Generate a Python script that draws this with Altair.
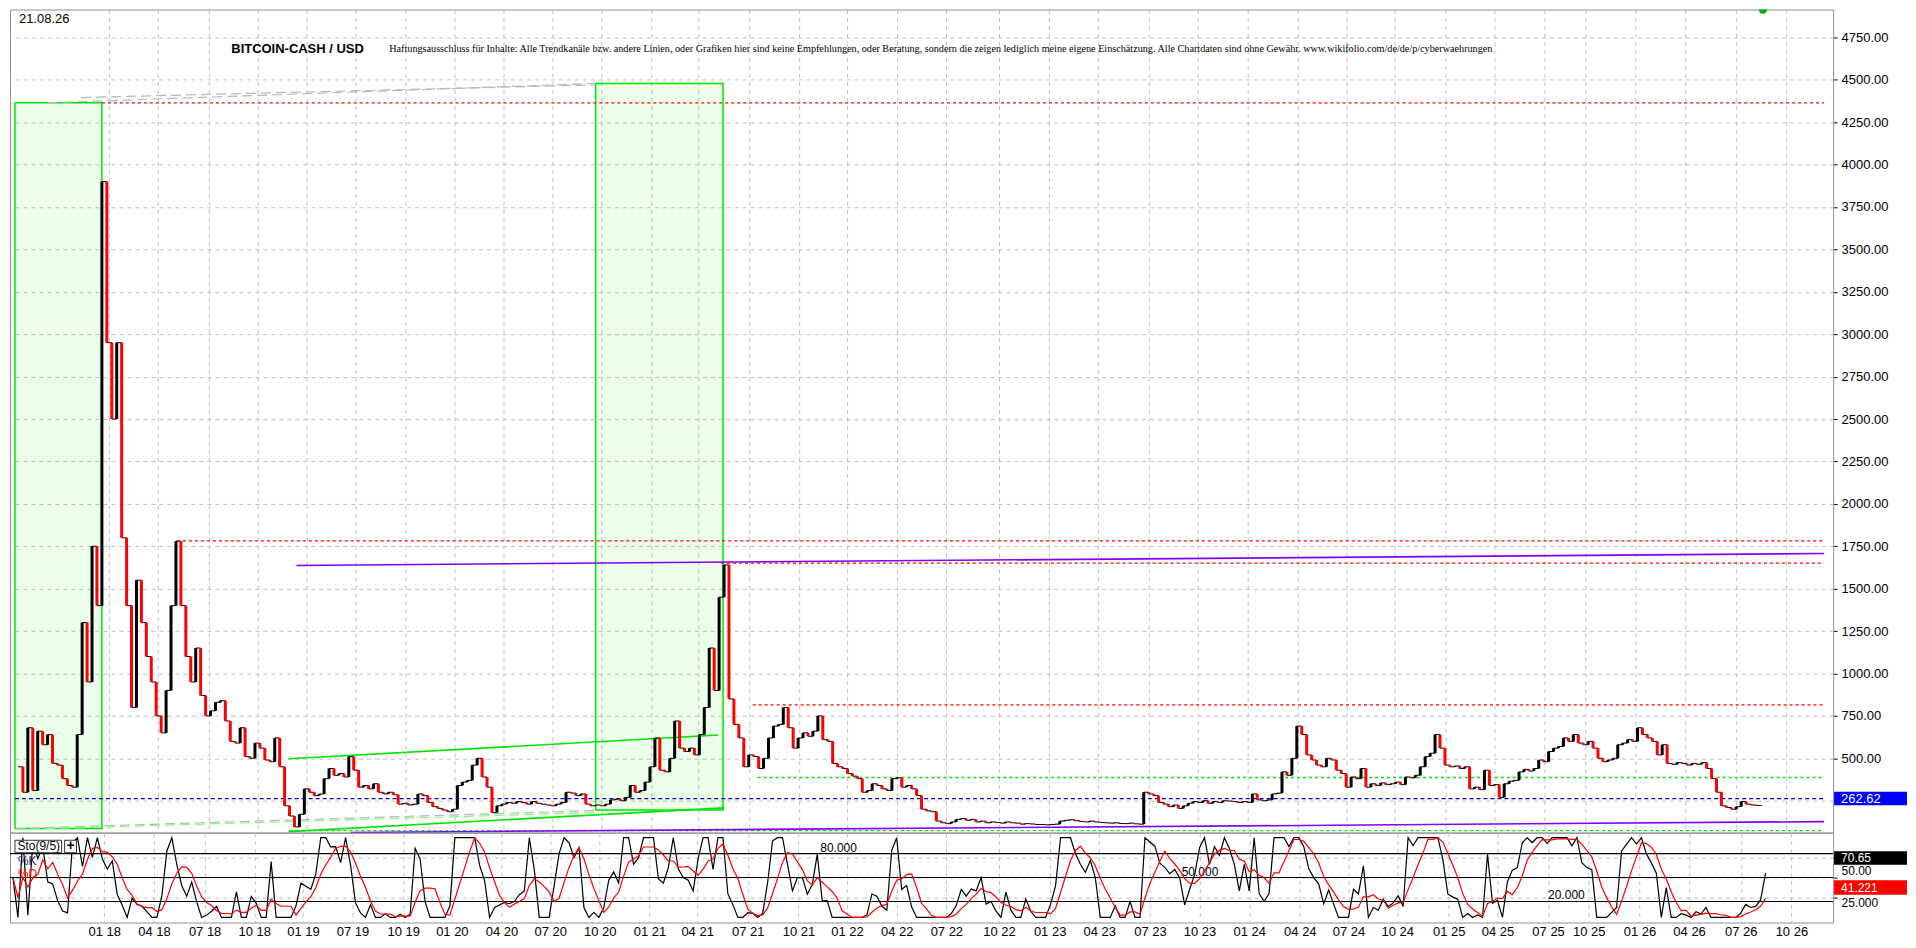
import json
import altair as alt
import numpy as np
import pandas as pd

# ---------------- data ----------------
closes = [
    450, 300, 680, 310, 660, 580, 640, 470, 460, 380,
    340, 330, 640, 1300, 950, 1750, 1400, 3900, 2950, 2500,
    2950, 1800, 1400, 800, 1550, 1300, 1100, 950, 750, 650,
    900, 1400, 1780, 1400, 1100, 950, 1150, 870, 750, 780,
    830, 840, 720, 600, 590, 680, 510, 500, 590, 560,
    490, 480, 620, 450, 220, 160, 95, 170, 320, 300,
    280, 290, 380, 440, 400, 410, 390, 510, 430, 330,
    340, 320, 350, 300, 290, 300, 285, 230, 235, 225,
    230, 290, 280, 240, 215, 205, 195, 185, 200, 340,
    360, 370, 460, 500, 390, 330, 180, 220, 230, 240,
    235, 245, 240, 230, 245, 235, 230, 225, 220, 230,
    240, 300, 295, 280, 290, 230, 220, 225, 220, 230,
    255, 260, 250, 270, 340, 300, 310, 360, 450, 620,
    430, 420, 500, 720, 560, 540, 560, 520, 640, 800,
    1150, 900, 1450, 1640, 850, 700, 620, 450, 520, 510,
    440, 500, 620, 690, 700, 800, 680, 560, 620, 650,
    630, 660, 750, 610, 600, 470, 450, 440, 410, 395,
    380, 300, 310, 350, 340, 320, 310, 380, 385, 330,
    340, 320, 280, 200, 190, 185, 130, 120, 115, 125,
    140, 145, 135, 140, 125, 130, 120, 125, 122, 118,
    125, 120, 118, 112, 115, 113, 110, 110, 108, 110,
    112, 130, 135, 138, 132, 128, 125, 130, 125, 122,
    120, 118, 120, 116, 115, 118, 114, 112, 300, 290,
    280, 240, 230, 215, 225, 205, 220, 235, 245, 240,
    250, 235, 245, 240, 250, 248, 245, 240, 245, 240,
    290, 255, 250, 255, 290, 295, 420, 400, 500, 690,
    640, 520, 490, 460, 450, 500, 490, 430, 410, 330,
    390, 380, 440, 330, 350, 340, 355, 345, 350, 360,
    345, 390, 385, 400, 450, 510, 530, 640, 560, 460,
    450, 455, 440, 450, 320, 330, 315, 430, 340, 345,
    270, 350, 365, 370, 420, 435, 425, 440, 490, 480,
    540, 560, 570, 620, 600, 640, 590, 580, 600, 560,
    500, 480, 490, 500, 580, 590, 610, 600, 680, 640,
    620, 600, 520, 580, 470, 465, 475, 470, 460, 470,
    465, 475, 440, 380, 300, 220, 210, 200, 215, 245,
    230, 225, 222, 225,
]

tick_pos = [18.4, 28.4, 38.6, 48.6, 58.4, 68.4, 78.6, 88.4, 98.4, 108.2,
            118.2, 128.2, 137.8, 148.0, 158.2, 168.0, 178.0, 188.0, 198.6, 208.8,
            218.8, 229.0, 239.0, 249.0, 259.2, 269.0, 278.8, 289.2, 299.0, 309.2,
            317.4, 327.6, 337.6, 348.0, 358.2]
tick_lab = ["01 18", "04 18", "07 18", "10 18", "01 19", "07 19", "10 19", "01 20",
            "04 20", "07 20", "10 20", "01 21", "04 21", "07 21", "10 21", "01 22",
            "04 22", "07 22", "10 22", "01 23", "04 23", "07 23", "10 23", "01 24",
            "04 24", "07 24", "10 24", "01 25", "04 25", "07 25", "10 25", "01 26",
            "04 26", "07 26", "10 26"]

price_ticks = [250, 500, 750, 1000, 1250, 1500, 1750, 2000, 2250, 2500, 2750,
               3000, 3250, 3500, 3750, 4000, 4250, 4500, 4750]
stoch_ticks = [25, 50, 75]
stoch_levels = [80, 50, 20]
stoch_level_labels = ["80.000", "50.000", "20.000"]
stoch_level_x = [162.6, 235.4, 309.2]

last_price = 262.62
last_k_label = "70.65"
last_d_label = "41.221"

# horizontal levels
red_levels = [4364, 1782, 1650, 815]
red_start = [17.0, 32.2, 142.4, 148.8]
green_levels = [387, 74]
green_start = [149.8, 55.0]
line_end = 365.8

# green zones
zone_x0 = [-0.6, 117.0]
zone_x1 = [17.0, 142.8]
zone_y0 = [86, 196]
zone_y1 = [4364, 4478]

# sloped lines
purple_x0, purple_y0, purple_x1, purple_y1 = [56.4, 67.4], [1637, 63], [365.8, 365.8], [1707, 127]
trend_x0, trend_y0, trend_x1, trend_y1 = [54.8, 54.8], [497, 68], [141.8, 143.0], [637, 208]
gray_x0, gray_y0, gray_x1, gray_y1 = [6.0, 12.8, -0.6], [4364, 4395, 86], [117.0, 117.0, 117.0], [4478, 4470, 192]
lg_x0, lg_y0, lg_x1, lg_y1 = [-0.6], [80], [117.0], [180]

title_text = "BITCOIN-CASH / USD"
date_text = "21.08.26"
disclaimer = ("Haftungsausschluss für Inhalte: Alle Trendkanäle bzw. andere Linien, oder Grafiken hier "
              "sind keine Empfehlungen, oder Beratung, sondern die zeigen lediglich meine eigene "
              "Einschätzung. Alle Chartdaten sind ohne Gewähr. www.wikifolio.com/de/de/p/cyberwaehrungen")

# ---------------- layout constants ----------------
W = 1825
H1 = 824
H2 = 90
XDOM = [-0.6, 366.6]
YDOM = [62, 4914]
SDOM = [-6.4, 106.4]
FONT = "Liberation Sans"
GRID = "#c0c0c0"

XS = alt.Scale(domain=XDOM, nice=False, zero=False)
YS = alt.Scale(domain=YDOM, nice=False, zero=False)
SS = alt.Scale(domain=SDOM, nice=False, zero=False)

lab_expr = f"{json.dumps(tick_lab)}[indexof({json.dumps(tick_pos)}, datum.value)]"

XA_P = alt.Axis(values=tick_pos, labels=False, ticks=False, domain=False, grid=True,
                gridColor=GRID, gridDash=[4, 4], title=None)
YA_P = alt.Axis(orient="right", values=price_ticks, format=".2f", tickSize=4, tickColor="#000",
                labelPadding=4, labelFontSize=13, labelColor="#000", labelFont=FONT,
                domainColor="#a0a0a0", grid=True, gridColor=GRID, gridDash=[4, 4], title=None,
                labelFlush=False)
XA_S = alt.Axis(values=tick_pos, labelExpr=lab_expr, ticks=False, domain=False, grid=True,
                gridColor=GRID, gridDash=[4, 4], title=None, labelFontSize=13, labelFont=FONT,
                labelColor="#000", labelPadding=3, labelFlush=False)
YA_S = alt.Axis(orient="right", values=stoch_ticks, tickSize=4, tickColor="#000", labelPadding=4,
                labelFontSize=12, labelColor="#000", labelFont=FONT, domainColor="#a0a0a0",
                grid=True, gridColor=GRID, gridDash=[4, 4], title=None, labelFlush=False,
                labelBaseline=alt.condition("datum.value == 50", alt.value("bottom"), alt.value("top")),
                labelExpr="datum.value == 25 ? '25.000' : (datum.value == 50 ? '50.00' : '')")

n = len(closes)
df = pd.DataFrame({"i": np.arange(n), "close": closes})
df["prev"] = [closes[0]] + closes[:-1]
df["lo"] = df[["prev", "close"]].min(axis=1)
df["hi"] = df[["prev", "close"]].max(axis=1)
df["dir"] = np.where(df["close"] >= df["prev"], "up", "down")


def X(f):
    return alt.X(f"{f}:Q", scale=XS, axis=XA_P)


def Y(f):
    return alt.Y(f"{f}:Q", scale=YS, axis=YA_P)


def XX(f):
    return alt.X(f"{f}:Q", scale=XS, axis=XA_S)


def S(f):
    return alt.Y(f"{f}:Q", scale=SS, axis=YA_S)


# ---------------- price panel ----------------
zones = pd.DataFrame({"x0": zone_x0, "x1": zone_x1, "y0": zone_y0, "y1": zone_y1})
zone_layer = alt.Chart(zones).mark_rect(
    fill="#00ff00", fillOpacity=0.08, stroke="#00e600", strokeWidth=1.5
).encode(x=X("x0"), x2="x1:Q", y=Y("y0"), y2="y1:Q")

reds = pd.DataFrame({"x0": red_start, "x1": [line_end] * len(red_levels), "y": red_levels})
red_layer = alt.Chart(reds).mark_rule(color="#ff0000", strokeDash=[3, 3], strokeWidth=1.3).encode(
    x=X("x0"), x2="x1:Q", y=Y("y"))

greens = pd.DataFrame({"x0": green_start, "x1": [line_end] * len(green_levels), "y": green_levels})
green_layer = alt.Chart(greens).mark_rule(color="#00e600", strokeDash=[3, 3], strokeWidth=1.3).encode(
    x=X("x0"), x2="x1:Q", y=Y("y"))

blue = pd.DataFrame({"x0": [XDOM[0]], "x1": [line_end], "y": [last_price]})
blue_layer = alt.Chart(blue).mark_rule(color="#0000cc", strokeDash=[4, 3], strokeWidth=1.2).encode(
    x=X("x0"), x2="x1:Q", y=Y("y"))


def seg(x0, y0, x1, y1, **style):
    d = pd.DataFrame({"x0": x0, "y0": y0, "x1": x1, "y1": y1})
    return alt.Chart(d).mark_rule(**style).encode(x=X("x0"), y=Y("y0"), x2="x1:Q", y2="y1:Q")


gray_layer = seg(gray_x0, gray_y0, gray_x1, gray_y1, color="#b8b8b8", strokeDash=[10, 5], strokeWidth=1.2)
lg_layer = seg(lg_x0, lg_y0, lg_x1, lg_y1, color="#80ff80", strokeDash=[10, 5], strokeWidth=1.2)
purple_layer = seg(purple_x0, purple_y0, purple_x1, purple_y1, color="#8000ff", strokeWidth=1.6)
trend_layer = seg(trend_x0, trend_y0, trend_x1, trend_y1, color="#00e600", strokeWidth=1.6)

step_layer = alt.Chart(df).mark_line(interpolate="step-after", color="#000000", strokeWidth=1).encode(
    x=X("i"), y=Y("close"))
bar_layer = alt.Chart(df).mark_bar(size=3).encode(
    x=X("i"), y=Y("lo"), y2="hi:Q",
    color=alt.Color("dir:N", scale=alt.Scale(domain=["up", "down"], range=["#000000", "#ff0000"]),
                    legend=None))

marker = pd.DataFrame({"x": [353.4], "y": [YDOM[1]]})
marker_layer = alt.Chart(marker).mark_point(filled=True, color="#00b000", size=70, opacity=1,
                                            clip=True).encode(x=X("x"), y=Y("y"))

date_layer = alt.Chart(pd.DataFrame({"x": [0.2], "y": [4857], "t": [date_text]})).mark_text(
    align="left", baseline="middle", fontSize=13, font=FONT, color="#000").encode(
    x=X("x"), y=Y("y"), text="t:N")
title_layer = alt.Chart(pd.DataFrame({"x": [43.2], "y": [4680], "t": [title_text]})).mark_text(
    align="left", baseline="middle", fontSize=13, font=FONT, fontWeight="bold", color="#000").encode(
    x=X("x"), y=Y("y"), text="t:N")
disc_layer = alt.Chart(pd.DataFrame({"x": [75.2], "y": [4680], "t": [disclaimer]})).mark_text(
    align="left", baseline="middle", fontSize=10.2, font="Liberation Serif", color="#000").encode(
    x=X("x"), y=Y("y"), text="t:N")

pbox = pd.DataFrame({"y0": [last_price - 40], "y1": [last_price + 40], "y": [last_price],
                     "t": [f"{last_price:.2f}"]})
pbox_layer = alt.Chart(pbox).mark_rect(color="#0000ff").encode(
    x=alt.value(W + 1), x2=alt.value(W + 74), y=Y("y0"), y2="y1:Q")
ptext_layer = alt.Chart(pbox).mark_text(align="left", baseline="middle", fontSize=13, font=FONT,
                                        color="#ffffff").encode(
    x=alt.value(W + 8), y=Y("y"), text="t:N")

price = alt.layer(
    zone_layer, gray_layer, lg_layer, red_layer, green_layer, blue_layer, purple_layer,
    trend_layer, step_layer, bar_layer, marker_layer, date_layer, title_layer, disc_layer,
    pbox_layer, ptext_layer,
).properties(width=W, height=H1)

# ---------------- stochastic panel ----------------
lv = pd.DataFrame({"y": stoch_levels, "x": stoch_level_x, "t": stoch_level_labels})
level_layer = alt.Chart(lv).mark_rule(color="#000000", strokeWidth=1.1).encode(y=S("y"))
level_txt = alt.Chart(lv).mark_text(align="left", baseline="bottom", dy=1, fontSize=12,
                                    font=FONT, color="#000").encode(
    x=XX("x"), y=S("y"), text="t:N")

sto = alt.Chart(df).transform_window(
    ll="min(close)", hh="max(close)", frame=[-8, 0], sort=[alt.SortField("i")]
).transform_calculate(
    k="datum.hh > datum.ll ? 100 * (datum.close - datum.ll) / (datum.hh - datum.ll) : 50"
).transform_window(
    d="mean(k)", frame=[-4, 0], sort=[alt.SortField("i")]
)
k_layer = sto.mark_line(color="#000000", strokeWidth=1.2).encode(x=XX("i"), y=S("k"))
d_layer = sto.mark_line(color="#ff0000", strokeWidth=1.2).encode(x=XX("i"), y=S("d"))

hdr = pd.DataFrame({"x0": [0.4, 10.4], "x1": [9.8, 12.8], "y0": [81.2, 81.2], "y1": [96.8, 96.8]})
hdr_layer = alt.Chart(hdr).mark_rect(fill="#ffffff", stroke="#333333", strokeWidth=1).encode(
    x=XX("x0"), x2="x1:Q", y=S("y0"), y2="y1:Q")
sto_txt = alt.Chart(pd.DataFrame({"x": [0.9], "y": [89], "t": ["Sto(9/5)"]})).mark_text(
    align="left", baseline="middle", fontSize=12, font=FONT, color="#000").encode(
    x=XX("x"), y=S("y"), text="t:N")
plus_txt = alt.Chart(pd.DataFrame({"x": [11.6], "y": [89], "t": ["+"]})).mark_text(
    align="center", baseline="middle", fontSize=14, font=FONT, fontWeight="bold", color="#000").encode(
    x=XX("x"), y=S("y"), text="t:N")
kd_txt = alt.Chart(pd.DataFrame({"x": [1.0, 1.0], "y": [70.4, 54.8], "t": ["%K", "%D"],
                                 "c": ["#1a1a60", "#ff0000"]})).mark_text(
    align="left", baseline="middle", fontSize=12, font=FONT).encode(
    x=XX("x"), y=S("y"), text="t:N", color=alt.Color("c:N", scale=None))

sbox = pd.DataFrame({"y0": [66.0, 28.5], "y1": [83.0, 46.5], "y": [74.5, 37.5],
                     "t": [last_k_label, last_d_label], "c": ["#000000", "#ff0000"]})
sbox_layer = alt.Chart(sbox).mark_rect().encode(
    x=alt.value(W + 1), x2=alt.value(W + 74), y=S("y0"), y2="y1:Q",
    color=alt.Color("c:N", scale=None))
stext_layer = alt.Chart(sbox).mark_text(align="left", baseline="middle", fontSize=12, font=FONT,
                                        color="#ffffff").encode(
    x=alt.value(W + 8), y=S("y"), text="t:N")

stoch = alt.layer(
    level_txt, level_layer, k_layer, d_layer, hdr_layer, sto_txt, plus_txt, kd_txt,
    sbox_layer, stext_layer,
).properties(width=W, height=H2)

chart = alt.vconcat(price, stoch, spacing=0, bounds="flush").properties(
    padding={"left": 0, "top": 0, "right": 0, "bottom": 0}
).configure_view(stroke="#909090").configure_text(font=FONT)

chart.save("out.html", embed_options={"renderer": "svg", "actions": False})
